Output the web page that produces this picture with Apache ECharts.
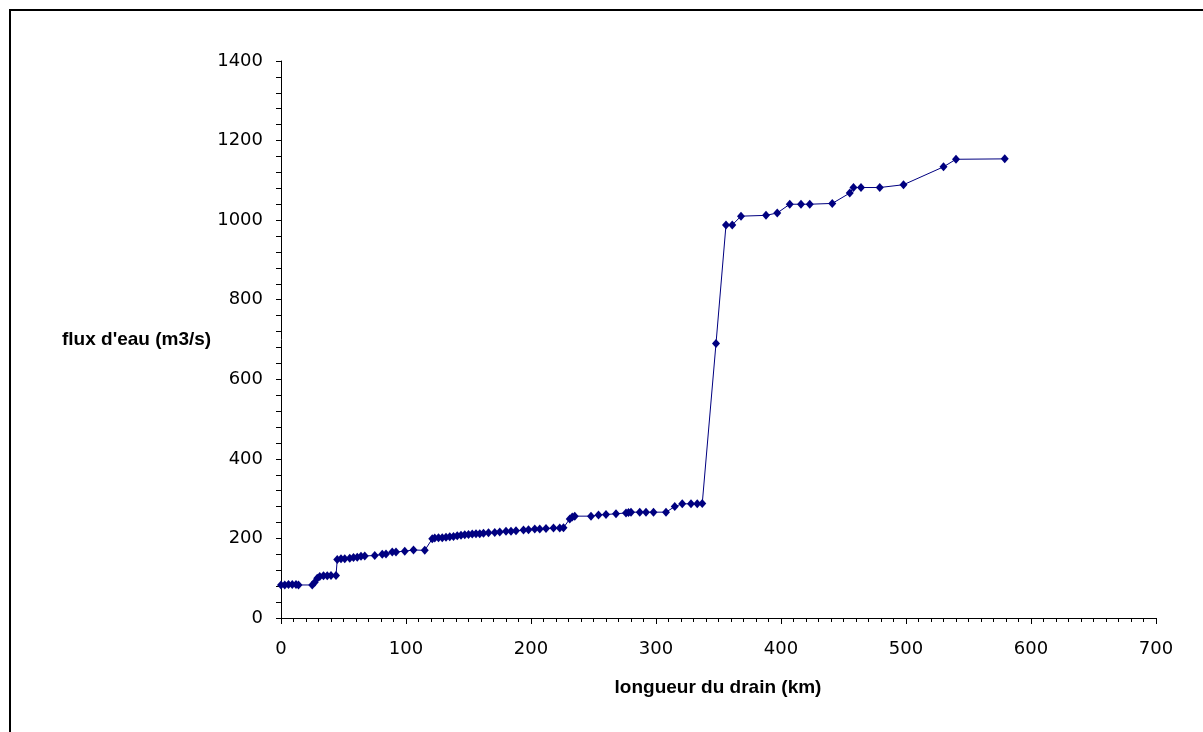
<!DOCTYPE html>
<html>
<head>
<meta charset="utf-8">
<script src="https://cdn.jsdelivr.net/npm/echarts@6/dist/echarts.min.js"></script>
<style>
html,body{margin:0;padding:0;background:#fff;}
#chart{width:1203px;height:732px;}
</style>
</head>
<body>
<div id="chart"></div>
<script>
// Data
const distanceKm = [0,3,6,9,12,14,25,27,29,31,34,37,40,44,45,48,51,55,58,61,64,67,75,81,84,89,92,99,106,115,121,123,126,129,132,135,138,141,144,147,150,153,156,159,162,166,171,175,180,184,188,194,198,203,207,212,218,223,226,231,233,235,248,254,260,268,276,278,280,287,292,298,308,315,321,328,333,337,348,356,361,368,388,397,407,416,423,441,455,458,464,479,498,530,540,579];
const flowM3s = [83,83,84,84,84,83,83,90,100,104,106,106,107,107,147,149,149,150,152,153,155,156,157,160,161,166,166,168,171,170,199,201,202,202,203,204,205,207,208,209,210,211,212,212,213,214,215,216,218,218,219,221,222,224,224,225,226,226,227,249,254,256,256,259,260,262,264,265,266,266,266,266,266,280,287,287,287,288,690,988,988,1010,1012,1018,1040,1040,1040,1042,1068,1082,1082,1082,1089,1134,1153,1154];
const xTitle = "longueur du drain (km)";
const yTitle = "flux d'eau (m3/s)";

const points = distanceKm.map((d, i) => [d, flowM3s[i]]);

const chart = echarts.init(document.getElementById('chart'), null, {renderer: 'canvas'});
const tickFont = {color: '#000', fontFamily: 'DejaVu Sans', fontSize: 18, formatter: v => String(v)};
chart.setOption({
  animation: false,
  backgroundColor: '#fff',
  grid: {left: 281, top: 61, right: 47, bottom: 114, containLabel: false},
  xAxis: {
    type: 'value', min: 0, max: 700, interval: 100,
    axisLine: {show: true, onZero: false, lineStyle: {color: '#000', width: 1}},
    axisTick: {show: true, inside: false, length: 6, lineStyle: {color: '#000'}},
    minorTick: {show: true, splitNumber: 10, length: 4, lineStyle: {color: '#000'}},
    splitLine: {show: false},
    axisLabel: Object.assign({margin: 22}, tickFont)
  },
  yAxis: {
    type: 'value', min: 0, max: 1400, interval: 200,
    axisLine: {show: true, onZero: false, lineStyle: {color: '#000', width: 1}},
    axisTick: {show: true, inside: false, length: 5, lineStyle: {color: '#000'}},
    minorTick: {show: true, splitNumber: 5, length: 5, lineStyle: {color: '#000'}},
    splitLine: {show: false},
    axisLabel: Object.assign({margin: 18}, tickFont)
  },
  graphic: [
    {type: 'rect', silent: true, shape: {x: 10, y: 10, width: 1300, height: 900},
     style: {fill: 'none', stroke: '#000', lineWidth: 2}},
    {type: 'text', left: 62, top: 330,
     style: {text: yTitle, fill: '#000', font: 'bold 19px "Liberation Sans", Arial, sans-serif'}},
    {type: 'text', x: 718, y: 688,
     style: {text: xTitle, fill: '#000', align: 'center', verticalAlign: 'middle',
             font: 'bold 19px "Liberation Sans", Arial, sans-serif'}}
  ],
  series: [{
    type: 'line',
    data: points,
    symbol: 'diamond',
    symbolSize: [8, 9],
    showAllSymbol: true,
    lineStyle: {color: '#000080', width: 1},
    itemStyle: {color: '#000080'},
    emphasis: {disabled: true}
  }]
});
</script>
</body>
</html>
